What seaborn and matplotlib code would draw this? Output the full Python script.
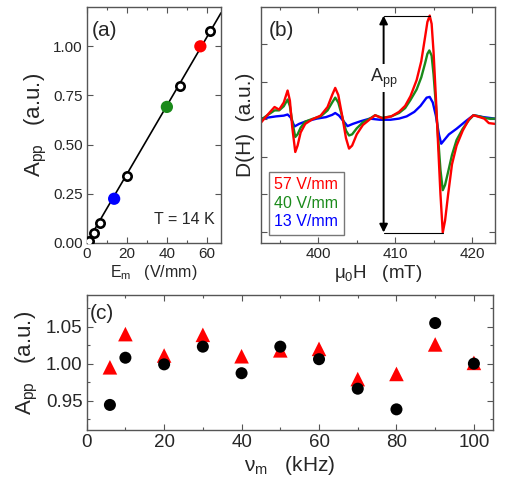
import numpy as np
import pandas as pd
import matplotlib
matplotlib.use('Agg')
import matplotlib.pyplot as plt
from matplotlib.ticker import MultipleLocator, FormatStrFormatter
import seaborn as sns

# ---- panel (a): A_pp vs modulation field ----
em_open = [1.3, 3.8, 6.7, 20.0, 46.7, 61.7]
app_open = [0.012, 0.053, 0.104, 0.342, 0.800, 1.080]
em_fill = [13.7, 40.0, 56.7]
app_fill = [0.225, 0.692, 1.000]
fill_labels = ['13 V/mm', '40 V/mm', '57 V/mm']
fit_x = [0.0, 67.0]
fit_y = [0.0, 1.17]

h_red = [392.4, 393.3, 394.3, 394.9, 395.5, 396.0, 396.3, 396.6, 397.0, 397.3, 397.7, 398.3,
         399.2, 400.3, 401.2, 401.8, 402.2, 402.6, 403.1, 403.6, 404.0, 404.4, 405.0, 405.8,
         406.7, 407.4, 408.3, 409.5, 410.5, 411.3, 412.0, 412.8, 413.4, 413.9, 414.2, 414.5,
         414.75, 415.0, 415.3, 415.6, 415.9, 416.2, 416.5, 416.9, 417.4, 418.0, 418.8, 419.6,
         420.2, 421.0, 421.6, 422.2, 423.0]
d_red = [-0.12, 0.10, 0.33, 0.26, 0.45, 0.77, 0.50, -0.20, -0.87, -0.70, -0.35, -0.12,
         0.00, 0.10, 0.33, 0.65, 0.84, 0.65, 0.10, -0.50, -0.78, -0.70, -0.40, -0.15,
         0.00, 0.11, 0.03, 0.08, 0.20, 0.36, 0.62, 1.05, 1.55, 2.20, 2.60, 2.77,
         2.55, 1.80, 0.60, -0.70, -2.00, -3.02, -2.70, -2.00, -1.20, -0.70, -0.30, 0.00,
         0.11, 0.06, 0.02, -0.10, -0.12]
h_green = [392.4, 393.3, 394.3, 394.9, 395.5, 396.0, 396.3, 396.6, 397.0, 397.3, 397.7, 398.3,
           399.2, 400.3, 401.2, 401.8, 402.2, 402.6, 403.1, 403.6, 404.0, 404.4, 405.0, 405.8,
           406.7, 407.4, 408.3, 409.5, 410.5, 411.3, 412.0, 412.8, 413.4, 413.9, 414.2, 414.45,
           414.75, 415.0, 415.3, 415.6, 415.9, 416.2, 416.5, 416.9, 417.4, 418.0, 418.8, 419.6,
           420.2, 421.0, 421.6, 422.2, 423.0]
d_green = [-0.03, 0.10, 0.24, 0.24, 0.35, 0.53, 0.35, -0.05, -0.47, -0.40, -0.22, -0.06,
           0.01, 0.08, 0.24, 0.45, 0.58, 0.45, 0.08, -0.30, -0.43, -0.40, -0.24, -0.08,
           0.02, 0.11, 0.04, 0.08, 0.17, 0.30, 0.52, 0.80, 1.12, 1.50, 1.75, 1.84,
           1.70, 1.20, 0.40, -0.50, -1.35, -1.89, -1.75, -1.40, -0.95, -0.55, -0.25, -0.02,
           0.11, 0.08, 0.04, 0.02, 0.02]
h_blue = [392.4, 393.5, 394.5, 395.5, 396.0, 396.4, 396.9, 397.5, 398.3, 399.8, 401.0, 401.8,
          402.2, 402.7, 403.2, 403.8, 404.5, 405.5, 406.7, 408.0, 409.4, 410.5, 411.5, 412.5,
          413.3, 414.1, 414.5, 414.9, 415.3, 415.7, 416.0, 416.4, 417.0, 418.0, 419.3, 420.2,
          421.5, 423.0]
d_blue = [0.02, 0.05, 0.08, 0.10, 0.13, 0.05, -0.19, -0.12, -0.06, 0.02, 0.06, 0.12,
          0.17, 0.10, -0.03, -0.18, -0.12, -0.05, 0.02, -0.01, -0.01, 0.02, 0.08, 0.20,
          0.36, 0.58, 0.60, 0.45, 0.10, -0.40, -0.65, -0.55, -0.40, -0.25, -0.03, 0.11,
          0.06, 0.02]
arrow_h = 408.5

# ---- panel (c): A_pp vs modulation frequency ----
nu = [6, 10, 20, 30, 40, 50, 60, 70, 80, 90, 100]
app_circ = [0.944, 1.008, 0.999, 1.023, 0.987, 1.023, 1.006, 0.966, 0.938, 1.055, 1.000]
app_tri = [0.995, 1.040, 1.011, 1.039, 1.010, 1.018, 1.020, 0.979, 0.986, 1.026, 1.001]

RED, GREEN, BLUE = '#ff0000', '#1a8a1a', '#0000ff'

sns.set_theme(style='ticks')
plt.rcParams['font.family'] = ['Liberation Sans', 'DejaVu Sans']
plt.rcParams['mathtext.fontset'] = 'custom'
plt.rcParams['mathtext.rm'] = 'Liberation Sans'
plt.rcParams['mathtext.it'] = 'Liberation Sans'
plt.rcParams['axes.edgecolor'] = '#555555'
plt.rcParams['axes.linewidth'] = 1.0

fig = plt.figure(figsize=(5.09, 4.95), dpi=100)
ax_a = fig.add_axes([0.1703, 0.5091, 0.2639, 0.4768])
ax_b = fig.add_axes([0.5122, 0.5091, 0.4603, 0.4768])
ax_c = fig.add_axes([0.1703, 0.1313, 0.7988, 0.2727])


def style_ticks(ax, size):
    ax.tick_params(which='both', direction='in', top=True, right=True,
                   labelsize=size, color='#555555', width=0.8, pad=3)
    ax.tick_params(which='major', length=4)
    ax.tick_params(which='minor', length=2.5)


# (a)
ax_a.plot(fit_x, fit_y, color='black', lw=1.2, zorder=1)
sns.scatterplot(x=em_open, y=app_open, ax=ax_a, s=36, color='white',
                edgecolor='black', linewidth=1.9, zorder=3)
df_fill = pd.DataFrame({'E': em_fill, 'A': app_fill, 'lab': fill_labels})
sns.scatterplot(data=df_fill, x='E', y='A', hue='lab', ax=ax_a, s=78,
                palette=[BLUE, GREEN, RED], edgecolor='none', legend=False, zorder=4)
ax_a.set_xlim(0, 67)
ax_a.set_ylim(0, 1.2)
ax_a.xaxis.set_major_locator(MultipleLocator(20))
ax_a.xaxis.set_minor_locator(MultipleLocator(10))
ax_a.yaxis.set_major_locator(MultipleLocator(0.25))
ax_a.yaxis.set_major_formatter(FormatStrFormatter('%.2f'))
style_ticks(ax_a, 11)
ax_a.set_xlabel(r'E$_\mathrm{m}$   (V/mm)', fontsize=11.5, labelpad=1)
ax_a.set_ylabel(r'A$_\mathrm{pp}$   (a.u.)', fontsize=16, labelpad=3)
ax_a.text(0.04, 0.94, '(a)', transform=ax_a.transAxes, fontsize=15, va='top')
ax_a.text(0.95, 0.08, 'T = 14 K', transform=ax_a.transAxes, fontsize=11.5, ha='right')

# (b)
df_b = pd.concat([
    pd.DataFrame({'H': h_red, 'D': d_red, 'E': '57 V/mm'}),
    pd.DataFrame({'H': h_green, 'D': d_green, 'E': '40 V/mm'}),
    pd.DataFrame({'H': h_blue, 'D': d_blue, 'E': '13 V/mm'}),
])
order = ['13 V/mm', '40 V/mm', '57 V/mm']
sns.lineplot(data=df_b, x='H', y='D', hue='E', hue_order=order, sort=False, ax=ax_b,
             lw=1.7, palette={'57 V/mm': RED, '40 V/mm': GREEN, '13 V/mm': BLUE},
             legend=False, solid_joinstyle='round')
for lab, col in zip(['57 V/mm', '40 V/mm', '13 V/mm'], [RED, GREEN, BLUE]):
    ax_b.plot([], [], color=col, label=lab)
i_max, i_min = int(np.argmax(d_red)), int(np.argmin(d_red))
ax_b.plot([arrow_h, h_red[i_max]], [d_red[i_max]] * 2, color='black', lw=0.8)
ax_b.plot([arrow_h, h_red[i_min]], [d_red[i_min]] * 2, color='black', lw=0.8)
ax_b.annotate('', xy=(arrow_h, d_red[i_max]), xytext=(arrow_h, d_red[i_min]),
              arrowprops=dict(arrowstyle='<|-|>', color='black', lw=1.4,
                              mutation_scale=12, shrinkA=0, shrinkB=0))
ax_b.text(arrow_h, 1.1, r'A$_\mathrm{pp}$', fontsize=13, ha='center', va='center',
          bbox=dict(facecolor='white', edgecolor='none', pad=2))
leg = ax_b.legend(loc='lower left', handlelength=0, handletextpad=0, fontsize=11.5,
                  labelcolor='linecolor', fancybox=False, edgecolor='#555555',
                  borderaxespad=0.5, borderpad=0.35, labelspacing=0.22)
leg.get_frame().set_linewidth(1.0)
ax_b.set_xlim(392.5, 423)
ax_b.set_ylim(-3.3, 3.0)
ax_b.xaxis.set_major_locator(MultipleLocator(10))
ax_b.xaxis.set_minor_locator(MultipleLocator(5))
ax_b.set_yticks([-3, -2, -1, 0, 1, 2])
ax_b.set_yticklabels([])
style_ticks(ax_b, 11)
ax_b.set_xlabel(r'μ$_\mathrm{0}$H   (mT)', fontsize=13.5, labelpad=1)
ax_b.set_ylabel('D(H)  (a.u.)', fontsize=15, labelpad=1)
ax_b.text(0.035, 0.94, '(b)', transform=ax_b.transAxes, fontsize=15, va='top')

# (c)
sns.scatterplot(x=nu, y=app_tri, ax=ax_c, marker='^', s=110, color=RED,
                edgecolor='none', zorder=3)
sns.scatterplot(x=nu, y=app_circ, ax=ax_c, marker='o', s=75, color='black',
                edgecolor='none', zorder=4)
ax_c.set_xlim(0, 105)
ax_c.set_ylim(0.91, 1.093)
ax_c.xaxis.set_major_locator(MultipleLocator(20))
ax_c.xaxis.set_minor_locator(MultipleLocator(10))
ax_c.yaxis.set_major_locator(MultipleLocator(0.05))
ax_c.yaxis.set_minor_locator(MultipleLocator(0.025))
ax_c.yaxis.set_major_formatter(FormatStrFormatter('%.2f'))
style_ticks(ax_c, 13.5)
ax_c.set_xlabel(r'ν$_\mathrm{m}$   (kHz)', fontsize=15, labelpad=2)
ax_c.set_ylabel(r'A$_\mathrm{pp}$   (a.u.)', fontsize=16, labelpad=4)
ax_c.text(0.008, 0.93, '(c)', transform=ax_c.transAxes, fontsize=15, va='top')

fig.savefig('out.png', dpi=100)
plt.close(fig)
